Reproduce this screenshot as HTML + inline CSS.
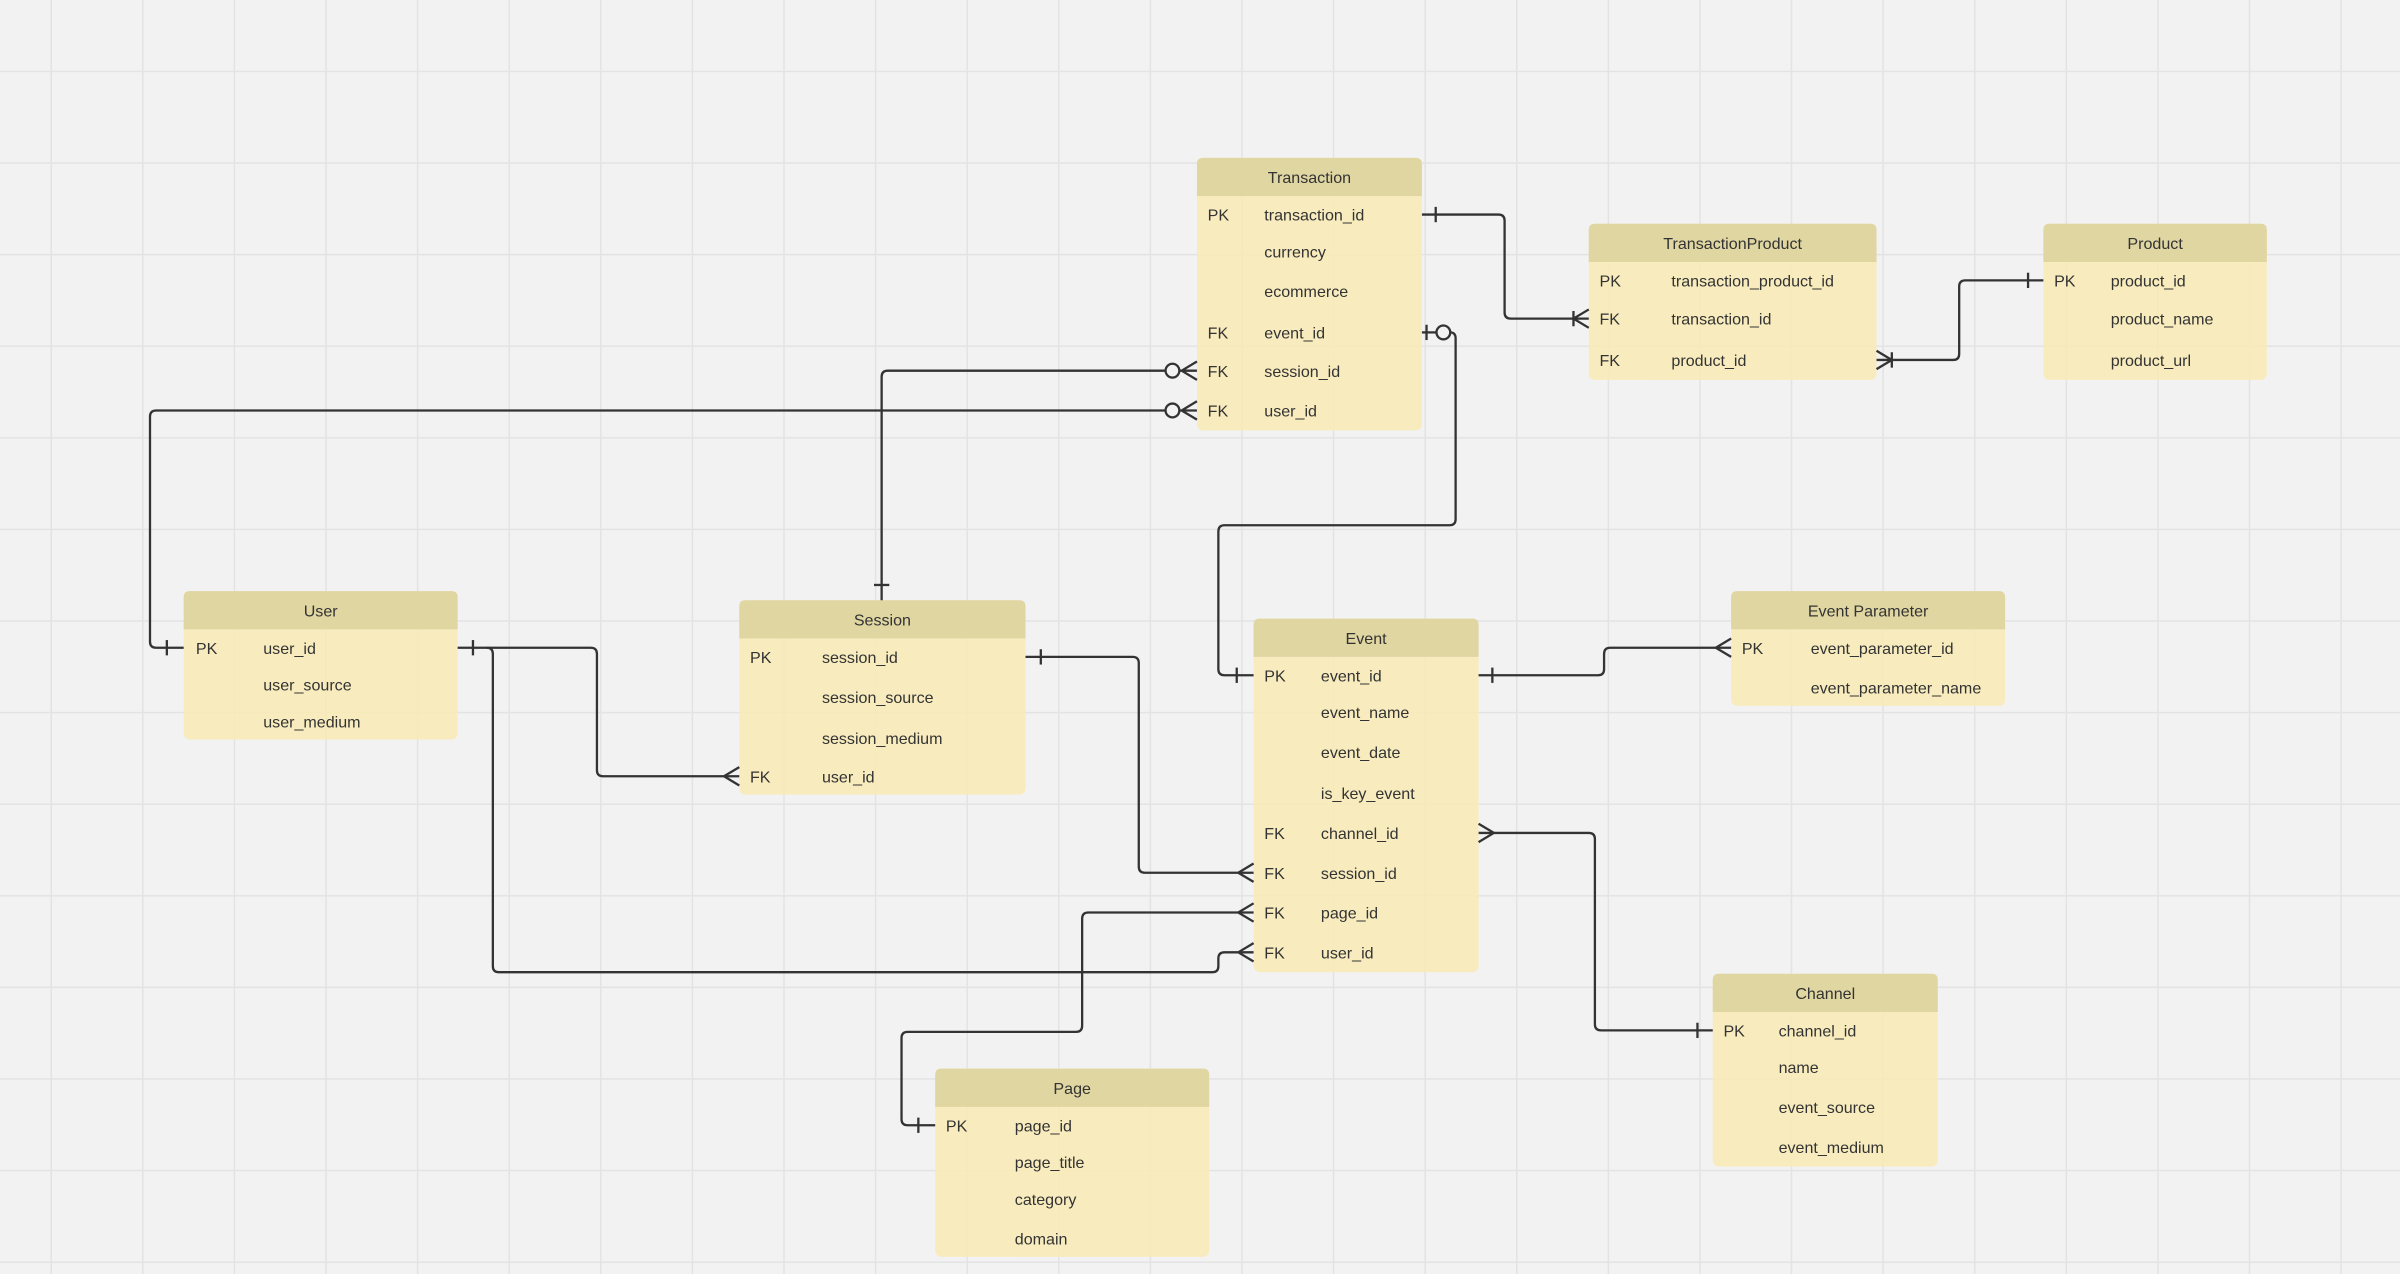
<!DOCTYPE html>
<html><head><meta charset="utf-8"><style>
html,body{margin:0;padding:0;}
body{width:2400px;height:1274px;background-color:#f2f2f2;
background-image:linear-gradient(to right,#e3e3e3 1.5px,transparent 1.5px),linear-gradient(to bottom,#e3e3e3 1.5px,transparent 1.5px);
background-size:91.6px 91.6px;background-position:50.5px 70.7px;}
svg{display:block}
text{font-family:"Liberation Sans",sans-serif;fill:#333;font-size:10.5px}
.h{fill:#e0d6a2}
.b{fill:#f8eab6;fill-opacity:0.88}
.l{fill:none;stroke:#333;stroke-width:1.5;stroke-linejoin:round}
</style></head><body>
<svg width="2400" height="1274" viewBox="0 0 1568 832" xmlns="http://www.w3.org/2000/svg">

<!-- Transaction -->
<rect class="b" x="782" y="103" width="147" height="178" rx="4"/>
<path class="h" d="M782 128V107q0-4 4-4H925q4 0 4 4V128Z"/>
<text x="855.5" y="119.5" text-anchor="middle">Transaction</text>
<text x="789" y="144">PK</text><text x="826" y="144">transaction_id</text>
<text x="826" y="168">currency</text>
<text x="826" y="194">ecommerce</text>
<text x="789" y="221">FK</text><text x="826" y="221">event_id</text>
<text x="789" y="246">FK</text><text x="826" y="246">session_id</text>
<text x="789" y="272">FK</text><text x="826" y="272">user_id</text>

<!-- TransactionProduct -->
<rect class="b" x="1038" y="146" width="188" height="102" rx="4"/>
<path class="h" d="M1038 171V150q0-4 4-4H1222q4 0 4 4V171Z"/>
<text x="1132" y="162.5" text-anchor="middle">TransactionProduct</text>
<text x="1045" y="187">PK</text><text x="1092" y="187">transaction_product_id</text>
<text x="1045" y="212">FK</text><text x="1092" y="212">transaction_id</text>
<text x="1045" y="239">FK</text><text x="1092" y="239">product_id</text>

<!-- Product -->
<rect class="b" x="1335" y="146" width="146" height="102" rx="4"/>
<path class="h" d="M1335 171V150q0-4 4-4H1477q4 0 4 4V171Z"/>
<text x="1408" y="162.5" text-anchor="middle">Product</text>
<text x="1342" y="187">PK</text><text x="1379" y="187">product_id</text>
<text x="1379" y="212">product_name</text>
<text x="1379" y="239">product_url</text>

<!-- User -->
<rect class="b" x="120" y="386" width="179" height="97" rx="4"/>
<path class="h" d="M120 411V390q0-4 4-4H295q4 0 4 4V411Z"/>
<text x="209.5" y="402.5" text-anchor="middle">User</text>
<text x="128" y="427">PK</text><text x="172" y="427">user_id</text>
<text x="172" y="451">user_source</text>
<text x="172" y="475">user_medium</text>

<!-- Session -->
<rect class="b" x="483" y="392" width="187" height="127" rx="4"/>
<path class="h" d="M483 417V396q0-4 4-4H666q4 0 4 4V417Z"/>
<text x="576.5" y="408.5" text-anchor="middle">Session</text>
<text x="490" y="433">PK</text><text x="537" y="433">session_id</text>
<text x="537" y="459">session_source</text>
<text x="537" y="486">session_medium</text>
<text x="490" y="511">FK</text><text x="537" y="511">user_id</text>

<!-- Event -->
<rect class="b" x="819" y="404" width="147" height="231" rx="4"/>
<path class="h" d="M819 429V408q0-4 4-4H962q4 0 4 4V429Z"/>
<text x="892.5" y="420.5" text-anchor="middle">Event</text>
<text x="826" y="445">PK</text><text x="863" y="445">event_id</text>
<text x="863" y="469">event_name</text>
<text x="863" y="495">event_date</text>
<text x="863" y="522">is_key_event</text>
<text x="826" y="548">FK</text><text x="863" y="548">channel_id</text>
<text x="826" y="574">FK</text><text x="863" y="574">session_id</text>
<text x="826" y="600">FK</text><text x="863" y="600">page_id</text>
<text x="826" y="626">FK</text><text x="863" y="626">user_id</text>

<!-- Event Parameter -->
<rect class="b" x="1131" y="386" width="179" height="75" rx="4"/>
<path class="h" d="M1131 411V390q0-4 4-4H1306q4 0 4 4V411Z"/>
<text x="1220.5" y="402.5" text-anchor="middle">Event Parameter</text>
<text x="1138" y="427">PK</text><text x="1183" y="427">event_parameter_id</text>
<text x="1183" y="453">event_parameter_name</text>

<!-- Channel -->
<rect class="b" x="1119" y="636" width="147" height="126" rx="4"/>
<path class="h" d="M1119 661V640q0-4 4-4H1262q4 0 4 4V661Z"/>
<text x="1192.5" y="652.5" text-anchor="middle">Channel</text>
<text x="1126" y="677">PK</text><text x="1162" y="677">channel_id</text>
<text x="1162" y="701">name</text>
<text x="1162" y="727">event_source</text>
<text x="1162" y="753">event_medium</text>

<!-- Page -->
<rect class="b" x="611" y="698" width="179" height="123" rx="4"/>
<path class="h" d="M611 723V702q0-4 4-4H786q4 0 4 4V723Z"/>
<text x="700.5" y="714.5" text-anchor="middle">Page</text>
<text x="618" y="739">PK</text><text x="663" y="739">page_id</text>
<text x="663" y="763">page_title</text>
<text x="663" y="787">category</text>
<text x="663" y="813">domain</text>

<!-- connectors -->
<g class="l">
<path d="M929 140H979q4 0 4 4V204q0 4 4 4H1038"/>
<path d="M938 135V145"/>
<path d="M1028 208L1038 202M1028 208L1038 214M1028 203V213"/>
<path d="M1226 235H1276q4 0 4-4V187q0-4 4-4H1335"/>
<path d="M1236 235L1226 229M1236 235L1226 241M1236 230V240"/>
<path d="M1325 178V188"/>
<path d="M929 217H938"/>
<circle cx="943" cy="217" r="4.5" fill="#f2f2f2"/>
<path d="M932 212V222"/>
<path d="M947.5 217q3.5 0 3.5 4V339q0 4-4 4H800q-4 0-4 4V437q0 4 4 4H819"/>
<path d="M808 436V446"/>
<path d="M576 392V246q0-4 4-4H761.5"/>
<path d="M571 382H581"/>
<circle cx="766" cy="242" r="4.5" fill="#f2f2f2"/>
<path d="M770.5 242H782M772 242L782 236M772 242L782 248"/>
<path d="M761.5 268H102q-4 0-4 4V419q0 4 4 4H120"/>
<circle cx="766" cy="268" r="4.5" fill="#f2f2f2"/>
<path d="M770.5 268H782M772 268L782 262M772 268L782 274"/>
<path d="M109 418V428"/>
<path d="M299 423H386q4 0 4 4V503q0 4 4 4H483"/>
<path d="M309 418V428"/>
<path d="M473 507L483 501M473 507L483 513"/>
<path d="M318 423q4 0 4 4V631q0 4 4 4H792q4 0 4-4V626q0-4 4-4H819"/>
<path d="M809 622L819 616M809 622L819 628"/>
<path d="M670 429H740q4 0 4 4V566q0 4 4 4H819"/>
<path d="M680 424V434"/>
<path d="M809 570L819 564M809 570L819 576"/>
<path d="M966 441H1044q4 0 4-4V427q0-4 4-4H1131"/>
<path d="M975 436V446"/>
<path d="M1121 423L1131 417M1121 423L1131 429"/>
<path d="M966 544H1038q4 0 4 4V669q0 4 4 4H1119"/>
<path d="M976 544L966 538M976 544L966 550"/>
<path d="M1109 668V678"/>
<path d="M819 596H711q-4 0-4 4V670q0 4-4 4H593q-4 0-4 4V731q0 4 4 4H611"/>
<path d="M809 596L819 590M809 596L819 602"/>
<path d="M600 730V740"/>
</g>
</svg>
</body></html>
